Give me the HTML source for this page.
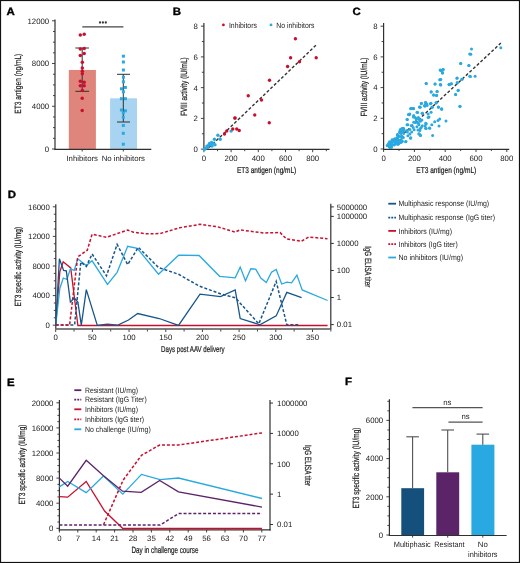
<!DOCTYPE html>
<html><head><meta charset="utf-8"><style>
html,body{margin:0;padding:0;background:#fff;}
svg{display:block;font-family:"Liberation Sans", sans-serif;will-change:transform;text-rendering:geometricPrecision;}
</style></head><body>
<svg width="520" height="563" viewBox="0 0 520 563">
<rect x="0" y="0" width="520" height="563" fill="#fff"/>
<text x="6.50" y="15.00" font-size="10.6" font-weight="bold" fill="#000" stroke="#000" stroke-width="0.35" transform="translate(6.50 0) scale(1.08 1) translate(-6.50 0)">A</text>
<rect x="68.80" y="69.94" width="27.10" height="79.06" fill="#e0857c"/>
<rect x="110.10" y="98.30" width="26.90" height="50.70" fill="#a9d4f1"/>
<line x1="55.00" y1="19.50" x2="55.00" y2="149.80" stroke="#303030" stroke-width="1.2"/>
<line x1="52.00" y1="149.00" x2="55.00" y2="149.00" stroke="#303030" stroke-width="0.9"/>
<line x1="53.00" y1="138.32" x2="55.00" y2="138.32" stroke="#303030" stroke-width="0.9"/>
<line x1="53.00" y1="127.63" x2="55.00" y2="127.63" stroke="#303030" stroke-width="0.9"/>
<line x1="53.00" y1="116.95" x2="55.00" y2="116.95" stroke="#303030" stroke-width="0.9"/>
<line x1="52.00" y1="106.27" x2="55.00" y2="106.27" stroke="#303030" stroke-width="0.9"/>
<line x1="53.00" y1="95.58" x2="55.00" y2="95.58" stroke="#303030" stroke-width="0.9"/>
<line x1="53.00" y1="84.90" x2="55.00" y2="84.90" stroke="#303030" stroke-width="0.9"/>
<line x1="53.00" y1="74.22" x2="55.00" y2="74.22" stroke="#303030" stroke-width="0.9"/>
<line x1="52.00" y1="63.53" x2="55.00" y2="63.53" stroke="#303030" stroke-width="0.9"/>
<line x1="53.00" y1="52.85" x2="55.00" y2="52.85" stroke="#303030" stroke-width="0.9"/>
<line x1="53.00" y1="42.17" x2="55.00" y2="42.17" stroke="#303030" stroke-width="0.9"/>
<line x1="53.00" y1="31.48" x2="55.00" y2="31.48" stroke="#303030" stroke-width="0.9"/>
<line x1="52.00" y1="20.80" x2="55.00" y2="20.80" stroke="#303030" stroke-width="0.9"/>
<text x="49.20" y="151.85" font-size="7.8" text-anchor="end" fill="#222" font-weight="normal" stroke="#222" stroke-width="0">0</text>
<text x="49.20" y="109.12" font-size="7.8" text-anchor="end" fill="#222" font-weight="normal" stroke="#222" stroke-width="0">4000</text>
<text x="49.20" y="66.38" font-size="7.8" text-anchor="end" fill="#222" font-weight="normal" stroke="#222" stroke-width="0">8000</text>
<text x="49.20" y="23.65" font-size="7.8" text-anchor="end" fill="#222" font-weight="normal" stroke="#222" stroke-width="0">12000</text>
<line x1="54.40" y1="149.40" x2="151.30" y2="149.40" stroke="#303030" stroke-width="1.1"/>
<line x1="82.20" y1="149.20" x2="82.20" y2="151.50" stroke="#303030" stroke-width="0.9"/>
<line x1="123.30" y1="149.20" x2="123.30" y2="151.50" stroke="#303030" stroke-width="0.9"/>
<text x="82.20" y="160.60" font-size="7.8" text-anchor="middle" fill="#222" font-weight="normal" stroke="#222" stroke-width="0">Inhibitors</text>
<text x="123.30" y="160.60" font-size="7.8" text-anchor="middle" fill="#222" font-weight="normal" stroke="#222" stroke-width="0">No inhibitors</text>
<text x="20.60" y="83.70" font-size="9" text-anchor="middle" fill="#222" font-weight="normal" stroke="#222" stroke-width="0.22" textLength="60" lengthAdjust="spacingAndGlyphs" transform="rotate(-90 20.6 83.7)">ET3 antigen (ng/mL)</text>
<line x1="82.30" y1="26.85" x2="123.40" y2="26.85" stroke="#444" stroke-width="1.2"/>
<circle cx="100.00" cy="22.50" r="1.15" fill="#3a3a3a"/>
<circle cx="102.90" cy="22.50" r="1.15" fill="#3a3a3a"/>
<circle cx="105.80" cy="22.50" r="1.15" fill="#3a3a3a"/>
<line x1="82.20" y1="48.00" x2="82.20" y2="91.40" stroke="#303030" stroke-width="1.0"/>
<line x1="75.40" y1="48.00" x2="88.90" y2="48.00" stroke="#303030" stroke-width="1.0"/>
<line x1="75.40" y1="91.30" x2="89.10" y2="91.30" stroke="#303030" stroke-width="1.0"/>
<circle cx="80.30" cy="34.90" r="1.75" fill="#c8102e"/>
<circle cx="84.20" cy="34.30" r="1.75" fill="#c8102e"/>
<circle cx="80.30" cy="48.90" r="1.75" fill="#c8102e"/>
<circle cx="84.20" cy="48.60" r="1.75" fill="#c8102e"/>
<circle cx="80.30" cy="55.40" r="1.75" fill="#c8102e"/>
<circle cx="84.20" cy="53.50" r="1.75" fill="#c8102e"/>
<circle cx="82.30" cy="62.30" r="1.75" fill="#c8102e"/>
<circle cx="82.30" cy="68.00" r="1.75" fill="#c8102e"/>
<circle cx="82.30" cy="71.20" r="1.75" fill="#c8102e"/>
<circle cx="82.30" cy="73.80" r="1.75" fill="#c8102e"/>
<circle cx="80.30" cy="81.20" r="1.75" fill="#c8102e"/>
<circle cx="84.20" cy="82.30" r="1.75" fill="#c8102e"/>
<circle cx="80.30" cy="85.70" r="1.75" fill="#c8102e"/>
<circle cx="84.20" cy="85.70" r="1.75" fill="#c8102e"/>
<circle cx="82.30" cy="90.50" r="1.75" fill="#c8102e"/>
<circle cx="82.20" cy="98.30" r="1.75" fill="#c8102e"/>
<circle cx="82.20" cy="110.40" r="1.75" fill="#c8102e"/>
<line x1="123.30" y1="74.30" x2="123.30" y2="122.00" stroke="#303030" stroke-width="1.0"/>
<line x1="117.00" y1="74.30" x2="130.00" y2="74.30" stroke="#303030" stroke-width="1.0"/>
<line x1="117.00" y1="122.00" x2="130.00" y2="122.00" stroke="#303030" stroke-width="1.0"/>
<rect x="121.90" y="54.70" width="3.00" height="3.00" fill="#2aa9e0"/>
<rect x="121.90" y="60.50" width="3.00" height="3.00" fill="#2aa9e0"/>
<rect x="121.90" y="68.50" width="3.00" height="3.00" fill="#2aa9e0"/>
<rect x="121.90" y="75.70" width="3.00" height="3.00" fill="#2aa9e0"/>
<rect x="121.90" y="80.30" width="3.00" height="3.00" fill="#2aa9e0"/>
<rect x="120.00" y="87.30" width="3.00" height="3.00" fill="#2aa9e0"/>
<rect x="123.90" y="85.90" width="3.00" height="3.00" fill="#2aa9e0"/>
<rect x="121.90" y="90.30" width="3.00" height="3.00" fill="#2aa9e0"/>
<rect x="119.90" y="97.20" width="3.00" height="3.00" fill="#2aa9e0"/>
<rect x="123.90" y="97.20" width="3.00" height="3.00" fill="#2aa9e0"/>
<rect x="119.90" y="108.50" width="3.00" height="3.00" fill="#2aa9e0"/>
<rect x="123.90" y="109.30" width="3.00" height="3.00" fill="#2aa9e0"/>
<rect x="121.80" y="111.50" width="3.00" height="3.00" fill="#2aa9e0"/>
<rect x="121.80" y="115.80" width="3.00" height="3.00" fill="#2aa9e0"/>
<rect x="121.80" y="124.00" width="3.00" height="3.00" fill="#2aa9e0"/>
<rect x="121.80" y="131.80" width="3.00" height="3.00" fill="#2aa9e0"/>
<rect x="121.80" y="142.70" width="3.00" height="3.00" fill="#2aa9e0"/>
<text x="172.80" y="14.70" font-size="10.6" font-weight="bold" fill="#000" stroke="#000" stroke-width="0.35" transform="translate(172.80 0) scale(1.08 1) translate(-172.80 0)">B</text>
<line x1="203.90" y1="23.10" x2="203.90" y2="149.80" stroke="#303030" stroke-width="1.2"/>
<line x1="200.90" y1="149.15" x2="203.90" y2="149.15" stroke="#303030" stroke-width="0.9"/>
<line x1="201.90" y1="133.78" x2="203.90" y2="133.78" stroke="#303030" stroke-width="0.9"/>
<line x1="200.90" y1="118.40" x2="203.90" y2="118.40" stroke="#303030" stroke-width="0.9"/>
<line x1="201.90" y1="103.03" x2="203.90" y2="103.03" stroke="#303030" stroke-width="0.9"/>
<line x1="200.90" y1="87.65" x2="203.90" y2="87.65" stroke="#303030" stroke-width="0.9"/>
<line x1="201.90" y1="72.28" x2="203.90" y2="72.28" stroke="#303030" stroke-width="0.9"/>
<line x1="200.90" y1="56.90" x2="203.90" y2="56.90" stroke="#303030" stroke-width="0.9"/>
<line x1="201.90" y1="41.53" x2="203.90" y2="41.53" stroke="#303030" stroke-width="0.9"/>
<line x1="200.90" y1="26.15" x2="203.90" y2="26.15" stroke="#303030" stroke-width="0.9"/>
<text x="197.80" y="152.00" font-size="7.8" text-anchor="end" fill="#222" font-weight="normal" stroke="#222" stroke-width="0">0</text>
<text x="197.80" y="121.25" font-size="7.8" text-anchor="end" fill="#222" font-weight="normal" stroke="#222" stroke-width="0">2</text>
<text x="197.80" y="90.50" font-size="7.8" text-anchor="end" fill="#222" font-weight="normal" stroke="#222" stroke-width="0">4</text>
<text x="197.80" y="59.75" font-size="7.8" text-anchor="end" fill="#222" font-weight="normal" stroke="#222" stroke-width="0">6</text>
<text x="197.80" y="29.00" font-size="7.8" text-anchor="end" fill="#222" font-weight="normal" stroke="#222" stroke-width="0">8</text>
<line x1="203.30" y1="149.40" x2="329.50" y2="149.40" stroke="#303030" stroke-width="1.1"/>
<line x1="203.90" y1="149.20" x2="203.90" y2="152.20" stroke="#303030" stroke-width="0.9"/>
<line x1="217.50" y1="149.20" x2="217.50" y2="151.20" stroke="#303030" stroke-width="0.9"/>
<line x1="231.10" y1="149.20" x2="231.10" y2="152.20" stroke="#303030" stroke-width="0.9"/>
<line x1="244.70" y1="149.20" x2="244.70" y2="151.20" stroke="#303030" stroke-width="0.9"/>
<line x1="258.30" y1="149.20" x2="258.30" y2="152.20" stroke="#303030" stroke-width="0.9"/>
<line x1="271.90" y1="149.20" x2="271.90" y2="151.20" stroke="#303030" stroke-width="0.9"/>
<line x1="285.50" y1="149.20" x2="285.50" y2="152.20" stroke="#303030" stroke-width="0.9"/>
<line x1="299.10" y1="149.20" x2="299.10" y2="151.20" stroke="#303030" stroke-width="0.9"/>
<line x1="312.70" y1="149.20" x2="312.70" y2="152.20" stroke="#303030" stroke-width="0.9"/>
<line x1="326.30" y1="149.20" x2="326.30" y2="151.20" stroke="#303030" stroke-width="0.9"/>
<text x="203.90" y="161.00" font-size="7.8" text-anchor="middle" fill="#222" font-weight="normal" stroke="#222" stroke-width="0">0</text>
<text x="231.10" y="161.00" font-size="7.8" text-anchor="middle" fill="#222" font-weight="normal" stroke="#222" stroke-width="0">200</text>
<text x="258.30" y="161.00" font-size="7.8" text-anchor="middle" fill="#222" font-weight="normal" stroke="#222" stroke-width="0">400</text>
<text x="285.50" y="161.00" font-size="7.8" text-anchor="middle" fill="#222" font-weight="normal" stroke="#222" stroke-width="0">600</text>
<text x="312.70" y="161.00" font-size="7.8" text-anchor="middle" fill="#222" font-weight="normal" stroke="#222" stroke-width="0">800</text>
<text x="266.60" y="173.20" font-size="8.5" text-anchor="middle" fill="#222" font-weight="normal" stroke="#222" stroke-width="0.22" textLength="59.4" lengthAdjust="spacingAndGlyphs">ET3 antigen (ng/mL)</text>
<text x="187.10" y="86.60" font-size="9" text-anchor="middle" fill="#222" font-weight="normal" stroke="#222" stroke-width="0.22" textLength="58.8" lengthAdjust="spacingAndGlyphs" transform="rotate(-90 187.1 86.6)">FVIII activity (IU/mL)</text>
<circle cx="223.40" cy="24.90" r="1.4" fill="#c8102e"/>
<text x="228.90" y="27.50" font-size="7.8" text-anchor="start" fill="#222" font-weight="normal" stroke="#222" stroke-width="0" textLength="28" lengthAdjust="spacingAndGlyphs">Inhibitors</text>
<circle cx="271.00" cy="24.90" r="1.4" fill="#2aa9e0"/>
<text x="276.30" y="27.50" font-size="7.8" text-anchor="start" fill="#222" font-weight="normal" stroke="#222" stroke-width="0" textLength="38.2" lengthAdjust="spacingAndGlyphs">No inhibitors</text>
<line x1="209.00" y1="147.60" x2="316.20" y2="45.00" stroke="#333" stroke-width="1.4" stroke-dasharray="3,2"/>
<circle cx="231.10" cy="131.10" r="1.7" fill="#2aa9e0"/>
<circle cx="217.90" cy="135.20" r="1.7" fill="#2aa9e0"/>
<circle cx="214.40" cy="139.20" r="1.7" fill="#2aa9e0"/>
<circle cx="220.20" cy="139.20" r="1.7" fill="#2aa9e0"/>
<circle cx="211.50" cy="142.50" r="1.7" fill="#2aa9e0"/>
<circle cx="210.40" cy="144.40" r="1.7" fill="#2aa9e0"/>
<circle cx="215.00" cy="144.80" r="1.7" fill="#2aa9e0"/>
<circle cx="212.10" cy="146.10" r="1.7" fill="#2aa9e0"/>
<circle cx="208.70" cy="145.20" r="1.7" fill="#2aa9e0"/>
<circle cx="206.90" cy="146.10" r="1.7" fill="#2aa9e0"/>
<circle cx="205.20" cy="148.40" r="1.7" fill="#2aa9e0"/>
<circle cx="204.60" cy="149.20" r="1.7" fill="#2aa9e0"/>
<circle cx="207.50" cy="147.50" r="1.7" fill="#2aa9e0"/>
<circle cx="209.50" cy="143.50" r="1.7" fill="#2aa9e0"/>
<circle cx="213.00" cy="143.20" r="1.7" fill="#2aa9e0"/>
<circle cx="269.50" cy="80.25" r="1.7" fill="#c8102e"/>
<circle cx="248.25" cy="95.75" r="1.7" fill="#c8102e"/>
<circle cx="261.50" cy="100.00" r="1.7" fill="#c8102e"/>
<circle cx="235.00" cy="118.00" r="1.7" fill="#c8102e"/>
<circle cx="254.75" cy="115.00" r="1.7" fill="#c8102e"/>
<circle cx="269.25" cy="122.75" r="1.7" fill="#c8102e"/>
<circle cx="232.75" cy="129.00" r="1.7" fill="#c8102e"/>
<circle cx="236.75" cy="129.00" r="1.7" fill="#c8102e"/>
<circle cx="239.25" cy="130.50" r="1.7" fill="#c8102e"/>
<circle cx="226.75" cy="131.00" r="1.7" fill="#c8102e"/>
<circle cx="224.50" cy="134.00" r="1.7" fill="#c8102e"/>
<circle cx="295.40" cy="38.80" r="1.7" fill="#c8102e"/>
<circle cx="290.60" cy="57.70" r="1.7" fill="#c8102e"/>
<circle cx="316.20" cy="57.70" r="1.7" fill="#c8102e"/>
<circle cx="287.60" cy="66.50" r="1.7" fill="#c8102e"/>
<circle cx="299.50" cy="61.70" r="1.7" fill="#c8102e"/>
<circle cx="234.90" cy="118.10" r="1.7" fill="#c8102e"/>
<text x="352.60" y="15.30" font-size="10.6" font-weight="bold" fill="#000" stroke="#000" stroke-width="0.35" transform="translate(352.60 0) scale(1.08 1) translate(-352.60 0)">C</text>
<line x1="383.60" y1="23.10" x2="383.60" y2="149.80" stroke="#303030" stroke-width="1.2"/>
<line x1="380.60" y1="149.00" x2="383.60" y2="149.00" stroke="#303030" stroke-width="0.9"/>
<line x1="381.60" y1="133.65" x2="383.60" y2="133.65" stroke="#303030" stroke-width="0.9"/>
<line x1="380.60" y1="118.30" x2="383.60" y2="118.30" stroke="#303030" stroke-width="0.9"/>
<line x1="381.60" y1="102.95" x2="383.60" y2="102.95" stroke="#303030" stroke-width="0.9"/>
<line x1="380.60" y1="87.60" x2="383.60" y2="87.60" stroke="#303030" stroke-width="0.9"/>
<line x1="381.60" y1="72.25" x2="383.60" y2="72.25" stroke="#303030" stroke-width="0.9"/>
<line x1="380.60" y1="56.90" x2="383.60" y2="56.90" stroke="#303030" stroke-width="0.9"/>
<line x1="381.60" y1="41.55" x2="383.60" y2="41.55" stroke="#303030" stroke-width="0.9"/>
<line x1="380.60" y1="26.20" x2="383.60" y2="26.20" stroke="#303030" stroke-width="0.9"/>
<text x="377.50" y="151.85" font-size="7.8" text-anchor="end" fill="#222" font-weight="normal" stroke="#222" stroke-width="0">0</text>
<text x="377.50" y="121.15" font-size="7.8" text-anchor="end" fill="#222" font-weight="normal" stroke="#222" stroke-width="0">2</text>
<text x="377.50" y="90.45" font-size="7.8" text-anchor="end" fill="#222" font-weight="normal" stroke="#222" stroke-width="0">4</text>
<text x="377.50" y="59.75" font-size="7.8" text-anchor="end" fill="#222" font-weight="normal" stroke="#222" stroke-width="0">6</text>
<text x="377.50" y="29.05" font-size="7.8" text-anchor="end" fill="#222" font-weight="normal" stroke="#222" stroke-width="0">8</text>
<line x1="383.00" y1="149.40" x2="509.20" y2="149.40" stroke="#303030" stroke-width="1.1"/>
<line x1="383.60" y1="149.00" x2="383.60" y2="152.00" stroke="#303030" stroke-width="0.9"/>
<line x1="399.00" y1="149.00" x2="399.00" y2="151.00" stroke="#303030" stroke-width="0.9"/>
<line x1="414.40" y1="149.00" x2="414.40" y2="152.00" stroke="#303030" stroke-width="0.9"/>
<line x1="429.80" y1="149.00" x2="429.80" y2="151.00" stroke="#303030" stroke-width="0.9"/>
<line x1="445.20" y1="149.00" x2="445.20" y2="152.00" stroke="#303030" stroke-width="0.9"/>
<line x1="460.60" y1="149.00" x2="460.60" y2="151.00" stroke="#303030" stroke-width="0.9"/>
<line x1="476.00" y1="149.00" x2="476.00" y2="152.00" stroke="#303030" stroke-width="0.9"/>
<line x1="491.40" y1="149.00" x2="491.40" y2="151.00" stroke="#303030" stroke-width="0.9"/>
<line x1="506.80" y1="149.00" x2="506.80" y2="152.00" stroke="#303030" stroke-width="0.9"/>
<text x="383.60" y="161.00" font-size="7.8" text-anchor="middle" fill="#222" font-weight="normal" stroke="#222" stroke-width="0">0</text>
<text x="414.40" y="161.00" font-size="7.8" text-anchor="middle" fill="#222" font-weight="normal" stroke="#222" stroke-width="0">200</text>
<text x="445.20" y="161.00" font-size="7.8" text-anchor="middle" fill="#222" font-weight="normal" stroke="#222" stroke-width="0">400</text>
<text x="476.00" y="161.00" font-size="7.8" text-anchor="middle" fill="#222" font-weight="normal" stroke="#222" stroke-width="0">600</text>
<text x="506.80" y="161.00" font-size="7.8" text-anchor="middle" fill="#222" font-weight="normal" stroke="#222" stroke-width="0">800</text>
<text x="446.30" y="173.20" font-size="8.5" text-anchor="middle" fill="#222" font-weight="normal" stroke="#222" stroke-width="0.22" textLength="60" lengthAdjust="spacingAndGlyphs">ET3 antigen (ng/mL)</text>
<text x="367.00" y="87.00" font-size="9" text-anchor="middle" fill="#222" font-weight="normal" stroke="#222" stroke-width="0.22" textLength="58.9" lengthAdjust="spacingAndGlyphs" transform="rotate(-90 367 87)">FVIII activity (IU/mL)</text>
<line x1="400.00" y1="137.00" x2="500.80" y2="43.10" stroke="#333" stroke-width="1.4" stroke-dasharray="3,2"/>
<circle cx="471.50" cy="48.90" r="1.5" fill="#2aa9e0"/>
<circle cx="470.80" cy="54.20" r="1.5" fill="#2aa9e0"/>
<circle cx="500.80" cy="47.70" r="1.5" fill="#2aa9e0"/>
<circle cx="460.80" cy="63.50" r="1.5" fill="#2aa9e0"/>
<circle cx="468.90" cy="65.40" r="1.5" fill="#2aa9e0"/>
<circle cx="443.10" cy="69.50" r="1.5" fill="#2aa9e0"/>
<circle cx="440.80" cy="70.30" r="1.5" fill="#2aa9e0"/>
<circle cx="442.60" cy="72.80" r="1.5" fill="#2aa9e0"/>
<circle cx="470.50" cy="76.60" r="1.5" fill="#2aa9e0"/>
<circle cx="475.10" cy="76.20" r="1.5" fill="#2aa9e0"/>
<circle cx="456.90" cy="78.20" r="1.5" fill="#2aa9e0"/>
<circle cx="462.00" cy="79.20" r="1.5" fill="#2aa9e0"/>
<circle cx="440.80" cy="79.50" r="1.5" fill="#2aa9e0"/>
<circle cx="457.20" cy="82.80" r="1.5" fill="#2aa9e0"/>
<circle cx="449.20" cy="84.60" r="1.5" fill="#2aa9e0"/>
<circle cx="451.50" cy="83.80" r="1.5" fill="#2aa9e0"/>
<circle cx="440.80" cy="84.90" r="1.5" fill="#2aa9e0"/>
<circle cx="458.20" cy="90.30" r="1.5" fill="#2aa9e0"/>
<circle cx="455.70" cy="94.60" r="1.5" fill="#2aa9e0"/>
<circle cx="460.00" cy="106.50" r="1.5" fill="#2aa9e0"/>
<circle cx="441.50" cy="108.90" r="1.5" fill="#2aa9e0"/>
<circle cx="440.10" cy="69.90" r="1.5" fill="#2aa9e0"/>
<circle cx="443.10" cy="69.60" r="1.5" fill="#2aa9e0"/>
<circle cx="442.50" cy="73.00" r="1.5" fill="#2aa9e0"/>
<circle cx="460.60" cy="63.60" r="1.5" fill="#2aa9e0"/>
<circle cx="468.90" cy="65.60" r="1.5" fill="#2aa9e0"/>
<circle cx="469.70" cy="54.10" r="1.5" fill="#2aa9e0"/>
<circle cx="439.80" cy="79.70" r="1.5" fill="#2aa9e0"/>
<circle cx="426.20" cy="83.50" r="1.5" fill="#2aa9e0"/>
<circle cx="435.00" cy="84.10" r="1.5" fill="#2aa9e0"/>
<circle cx="440.40" cy="84.80" r="1.5" fill="#2aa9e0"/>
<circle cx="449.10" cy="84.70" r="1.5" fill="#2aa9e0"/>
<circle cx="451.10" cy="83.70" r="1.5" fill="#2aa9e0"/>
<circle cx="457.20" cy="78.10" r="1.5" fill="#2aa9e0"/>
<circle cx="461.90" cy="79.30" r="1.5" fill="#2aa9e0"/>
<circle cx="457.20" cy="82.80" r="1.5" fill="#2aa9e0"/>
<circle cx="469.70" cy="76.30" r="1.5" fill="#2aa9e0"/>
<circle cx="458.10" cy="90.50" r="1.5" fill="#2aa9e0"/>
<circle cx="455.50" cy="94.50" r="1.5" fill="#2aa9e0"/>
<circle cx="431.20" cy="91.80" r="1.5" fill="#2aa9e0"/>
<circle cx="437.00" cy="91.50" r="1.5" fill="#2aa9e0"/>
<circle cx="433.60" cy="94.90" r="1.5" fill="#2aa9e0"/>
<circle cx="436.60" cy="95.20" r="1.5" fill="#2aa9e0"/>
<circle cx="421.50" cy="103.30" r="1.5" fill="#2aa9e0"/>
<circle cx="425.60" cy="102.60" r="1.5" fill="#2aa9e0"/>
<circle cx="424.90" cy="106.00" r="1.5" fill="#2aa9e0"/>
<circle cx="431.00" cy="103.30" r="1.5" fill="#2aa9e0"/>
<circle cx="436.10" cy="102.60" r="1.5" fill="#2aa9e0"/>
<circle cx="419.90" cy="106.90" r="1.5" fill="#2aa9e0"/>
<circle cx="432.30" cy="107.30" r="1.5" fill="#2aa9e0"/>
<circle cx="438.40" cy="107.00" r="1.5" fill="#2aa9e0"/>
<circle cx="441.70" cy="108.90" r="1.5" fill="#2aa9e0"/>
<circle cx="459.90" cy="106.20" r="1.5" fill="#2aa9e0"/>
<circle cx="410.80" cy="108.60" r="1.5" fill="#2aa9e0"/>
<circle cx="413.50" cy="108.60" r="1.5" fill="#2aa9e0"/>
<circle cx="441.10" cy="70.70" r="1.5" fill="#2aa9e0"/>
<circle cx="442.50" cy="72.80" r="1.5" fill="#2aa9e0"/>
<circle cx="440.00" cy="79.70" r="1.5" fill="#2aa9e0"/>
<circle cx="426.20" cy="83.50" r="1.5" fill="#2aa9e0"/>
<circle cx="435.10" cy="83.90" r="1.5" fill="#2aa9e0"/>
<circle cx="440.40" cy="84.60" r="1.5" fill="#2aa9e0"/>
<circle cx="449.20" cy="84.60" r="1.5" fill="#2aa9e0"/>
<circle cx="431.10" cy="92.00" r="1.5" fill="#2aa9e0"/>
<circle cx="437.20" cy="91.60" r="1.5" fill="#2aa9e0"/>
<circle cx="433.70" cy="94.90" r="1.5" fill="#2aa9e0"/>
<circle cx="436.50" cy="95.60" r="1.5" fill="#2aa9e0"/>
<circle cx="421.20" cy="103.40" r="1.5" fill="#2aa9e0"/>
<circle cx="425.50" cy="102.40" r="1.5" fill="#2aa9e0"/>
<circle cx="424.70" cy="105.20" r="1.5" fill="#2aa9e0"/>
<circle cx="426.90" cy="104.10" r="1.5" fill="#2aa9e0"/>
<circle cx="430.40" cy="103.80" r="1.5" fill="#2aa9e0"/>
<circle cx="436.10" cy="103.00" r="1.5" fill="#2aa9e0"/>
<circle cx="411.50" cy="108.40" r="1.5" fill="#2aa9e0"/>
<circle cx="413.40" cy="108.60" r="1.5" fill="#2aa9e0"/>
<circle cx="420.20" cy="107.20" r="1.5" fill="#2aa9e0"/>
<circle cx="431.80" cy="107.20" r="1.5" fill="#2aa9e0"/>
<circle cx="438.50" cy="107.20" r="1.5" fill="#2aa9e0"/>
<circle cx="441.80" cy="109.10" r="1.5" fill="#2aa9e0"/>
<circle cx="409.10" cy="114.70" r="1.5" fill="#2aa9e0"/>
<circle cx="417.60" cy="112.60" r="1.5" fill="#2aa9e0"/>
<circle cx="422.30" cy="113.30" r="1.5" fill="#2aa9e0"/>
<circle cx="431.10" cy="112.30" r="1.5" fill="#2aa9e0"/>
<circle cx="413.40" cy="116.90" r="1.5" fill="#2aa9e0"/>
<circle cx="418.40" cy="117.60" r="1.5" fill="#2aa9e0"/>
<circle cx="429.00" cy="116.90" r="1.5" fill="#2aa9e0"/>
<circle cx="407.00" cy="119.40" r="1.5" fill="#2aa9e0"/>
<circle cx="416.20" cy="119.70" r="1.5" fill="#2aa9e0"/>
<circle cx="421.90" cy="120.00" r="1.5" fill="#2aa9e0"/>
<circle cx="439.70" cy="119.00" r="1.5" fill="#2aa9e0"/>
<circle cx="438.00" cy="120.40" r="1.5" fill="#2aa9e0"/>
<circle cx="446.00" cy="121.10" r="1.5" fill="#2aa9e0"/>
<circle cx="415.50" cy="122.60" r="1.5" fill="#2aa9e0"/>
<circle cx="418.40" cy="123.30" r="1.5" fill="#2aa9e0"/>
<circle cx="426.20" cy="123.70" r="1.5" fill="#2aa9e0"/>
<circle cx="434.70" cy="121.80" r="1.5" fill="#2aa9e0"/>
<circle cx="407.00" cy="124.70" r="1.5" fill="#2aa9e0"/>
<circle cx="411.30" cy="125.40" r="1.5" fill="#2aa9e0"/>
<circle cx="416.90" cy="126.80" r="1.5" fill="#2aa9e0"/>
<circle cx="421.20" cy="127.50" r="1.5" fill="#2aa9e0"/>
<circle cx="425.50" cy="128.20" r="1.5" fill="#2aa9e0"/>
<circle cx="429.70" cy="128.20" r="1.5" fill="#2aa9e0"/>
<circle cx="431.80" cy="124.70" r="1.5" fill="#2aa9e0"/>
<circle cx="439.00" cy="126.10" r="1.5" fill="#2aa9e0"/>
<circle cx="403.40" cy="128.20" r="1.5" fill="#2aa9e0"/>
<circle cx="407.00" cy="130.40" r="1.5" fill="#2aa9e0"/>
<circle cx="414.10" cy="129.70" r="1.5" fill="#2aa9e0"/>
<circle cx="419.80" cy="130.40" r="1.5" fill="#2aa9e0"/>
<circle cx="399.90" cy="132.50" r="1.5" fill="#2aa9e0"/>
<circle cx="409.80" cy="133.90" r="1.5" fill="#2aa9e0"/>
<circle cx="419.10" cy="133.90" r="1.5" fill="#2aa9e0"/>
<circle cx="420.50" cy="135.60" r="1.5" fill="#2aa9e0"/>
<circle cx="432.60" cy="135.60" r="1.5" fill="#2aa9e0"/>
<circle cx="410.50" cy="138.20" r="1.5" fill="#2aa9e0"/>
<circle cx="405.60" cy="141.70" r="1.5" fill="#2aa9e0"/>
<circle cx="410.80" cy="108.70" r="1.5" fill="#2aa9e0"/>
<circle cx="413.20" cy="108.70" r="1.5" fill="#2aa9e0"/>
<circle cx="419.40" cy="107.10" r="1.5" fill="#2aa9e0"/>
<circle cx="424.70" cy="106.00" r="1.5" fill="#2aa9e0"/>
<circle cx="427.10" cy="105.50" r="1.5" fill="#2aa9e0"/>
<circle cx="417.00" cy="112.20" r="1.5" fill="#2aa9e0"/>
<circle cx="422.30" cy="113.20" r="1.5" fill="#2aa9e0"/>
<circle cx="408.40" cy="114.60" r="1.5" fill="#2aa9e0"/>
<circle cx="409.80" cy="114.10" r="1.5" fill="#2aa9e0"/>
<circle cx="413.70" cy="115.60" r="1.5" fill="#2aa9e0"/>
<circle cx="428.10" cy="114.10" r="1.5" fill="#2aa9e0"/>
<circle cx="407.40" cy="119.40" r="1.5" fill="#2aa9e0"/>
<circle cx="415.10" cy="117.50" r="1.5" fill="#2aa9e0"/>
<circle cx="417.00" cy="118.50" r="1.5" fill="#2aa9e0"/>
<circle cx="419.40" cy="119.40" r="1.5" fill="#2aa9e0"/>
<circle cx="428.10" cy="117.50" r="1.5" fill="#2aa9e0"/>
<circle cx="413.70" cy="122.30" r="1.5" fill="#2aa9e0"/>
<circle cx="417.50" cy="122.30" r="1.5" fill="#2aa9e0"/>
<circle cx="420.40" cy="121.30" r="1.5" fill="#2aa9e0"/>
<circle cx="425.70" cy="123.30" r="1.5" fill="#2aa9e0"/>
<circle cx="407.90" cy="124.70" r="1.5" fill="#2aa9e0"/>
<circle cx="418.90" cy="124.70" r="1.5" fill="#2aa9e0"/>
<circle cx="422.30" cy="125.70" r="1.5" fill="#2aa9e0"/>
<circle cx="425.20" cy="125.70" r="1.5" fill="#2aa9e0"/>
<circle cx="413.20" cy="127.60" r="1.5" fill="#2aa9e0"/>
<circle cx="420.40" cy="128.60" r="1.5" fill="#2aa9e0"/>
<circle cx="426.20" cy="128.60" r="1.5" fill="#2aa9e0"/>
<circle cx="403.10" cy="128.60" r="1.5" fill="#2aa9e0"/>
<circle cx="409.80" cy="129.50" r="1.5" fill="#2aa9e0"/>
<circle cx="418.00" cy="130.00" r="1.5" fill="#2aa9e0"/>
<circle cx="429.50" cy="128.10" r="1.5" fill="#2aa9e0"/>
<circle cx="399.70" cy="131.90" r="1.5" fill="#2aa9e0"/>
<circle cx="407.40" cy="131.90" r="1.5" fill="#2aa9e0"/>
<circle cx="411.70" cy="131.90" r="1.5" fill="#2aa9e0"/>
<circle cx="418.90" cy="133.80" r="1.5" fill="#2aa9e0"/>
<circle cx="420.40" cy="135.30" r="1.5" fill="#2aa9e0"/>
<circle cx="407.90" cy="135.80" r="1.5" fill="#2aa9e0"/>
<circle cx="410.80" cy="137.70" r="1.5" fill="#2aa9e0"/>
<circle cx="406.00" cy="141.50" r="1.5" fill="#2aa9e0"/>
<circle cx="397.70" cy="143.32" r="1.5" fill="#2aa9e0"/>
<circle cx="403.82" cy="129.49" r="1.5" fill="#2aa9e0"/>
<circle cx="395.96" cy="139.63" r="1.5" fill="#2aa9e0"/>
<circle cx="390.15" cy="147.16" r="1.5" fill="#2aa9e0"/>
<circle cx="400.85" cy="130.51" r="1.5" fill="#2aa9e0"/>
<circle cx="401.54" cy="130.05" r="1.5" fill="#2aa9e0"/>
<circle cx="395.86" cy="141.91" r="1.5" fill="#2aa9e0"/>
<circle cx="403.66" cy="133.57" r="1.5" fill="#2aa9e0"/>
<circle cx="402.01" cy="137.58" r="1.5" fill="#2aa9e0"/>
<circle cx="392.06" cy="139.73" r="1.5" fill="#2aa9e0"/>
<circle cx="388.32" cy="143.63" r="1.5" fill="#2aa9e0"/>
<circle cx="395.54" cy="144.06" r="1.5" fill="#2aa9e0"/>
<circle cx="391.48" cy="147.33" r="1.5" fill="#2aa9e0"/>
<circle cx="402.45" cy="129.87" r="1.5" fill="#2aa9e0"/>
<circle cx="397.87" cy="144.34" r="1.5" fill="#2aa9e0"/>
<circle cx="387.28" cy="145.58" r="1.5" fill="#2aa9e0"/>
<circle cx="394.74" cy="143.05" r="1.5" fill="#2aa9e0"/>
<circle cx="391.95" cy="144.29" r="1.5" fill="#2aa9e0"/>
<circle cx="401.05" cy="142.28" r="1.5" fill="#2aa9e0"/>
<circle cx="398.61" cy="143.71" r="1.5" fill="#2aa9e0"/>
<circle cx="392.00" cy="142.50" r="1.5" fill="#2aa9e0"/>
<circle cx="400.93" cy="142.20" r="1.5" fill="#2aa9e0"/>
<circle cx="398.29" cy="139.77" r="1.5" fill="#2aa9e0"/>
<circle cx="389.52" cy="141.78" r="1.5" fill="#2aa9e0"/>
<circle cx="394.18" cy="144.97" r="1.5" fill="#2aa9e0"/>
<circle cx="391.65" cy="141.17" r="1.5" fill="#2aa9e0"/>
<circle cx="391.70" cy="145.54" r="1.5" fill="#2aa9e0"/>
<circle cx="395.40" cy="138.65" r="1.5" fill="#2aa9e0"/>
<circle cx="387.66" cy="145.41" r="1.5" fill="#2aa9e0"/>
<circle cx="399.21" cy="142.83" r="1.5" fill="#2aa9e0"/>
<circle cx="400.07" cy="130.78" r="1.5" fill="#2aa9e0"/>
<circle cx="401.17" cy="139.78" r="1.5" fill="#2aa9e0"/>
<circle cx="398.64" cy="136.26" r="1.5" fill="#2aa9e0"/>
<circle cx="397.72" cy="144.04" r="1.5" fill="#2aa9e0"/>
<circle cx="398.01" cy="142.85" r="1.5" fill="#2aa9e0"/>
<circle cx="393.70" cy="141.30" r="1.5" fill="#2aa9e0"/>
<circle cx="397.46" cy="139.98" r="1.5" fill="#2aa9e0"/>
<circle cx="389.23" cy="146.87" r="1.5" fill="#2aa9e0"/>
<circle cx="402.01" cy="136.22" r="1.5" fill="#2aa9e0"/>
<circle cx="401.89" cy="141.13" r="1.5" fill="#2aa9e0"/>
<circle cx="397.11" cy="139.40" r="1.5" fill="#2aa9e0"/>
<circle cx="397.39" cy="134.72" r="1.5" fill="#2aa9e0"/>
<circle cx="390.02" cy="147.58" r="1.5" fill="#2aa9e0"/>
<circle cx="401.20" cy="132.40" r="1.5" fill="#2aa9e0"/>
<circle cx="397.38" cy="137.44" r="1.5" fill="#2aa9e0"/>
<circle cx="398.19" cy="140.28" r="1.5" fill="#2aa9e0"/>
<circle cx="400.36" cy="129.60" r="1.5" fill="#2aa9e0"/>
<circle cx="400.73" cy="133.62" r="1.5" fill="#2aa9e0"/>
<circle cx="400.39" cy="140.00" r="1.5" fill="#2aa9e0"/>
<circle cx="393.41" cy="139.66" r="1.5" fill="#2aa9e0"/>
<circle cx="399.58" cy="140.91" r="1.5" fill="#2aa9e0"/>
<circle cx="402.74" cy="131.32" r="1.5" fill="#2aa9e0"/>
<circle cx="390.52" cy="145.26" r="1.5" fill="#2aa9e0"/>
<circle cx="399.28" cy="136.52" r="1.5" fill="#2aa9e0"/>
<circle cx="390.30" cy="144.18" r="1.5" fill="#2aa9e0"/>
<circle cx="404.03" cy="130.14" r="1.5" fill="#2aa9e0"/>
<circle cx="394.53" cy="139.08" r="1.5" fill="#2aa9e0"/>
<circle cx="401.86" cy="128.51" r="1.5" fill="#2aa9e0"/>
<circle cx="389.06" cy="145.03" r="1.5" fill="#2aa9e0"/>
<circle cx="401.42" cy="141.60" r="1.5" fill="#2aa9e0"/>
<circle cx="402.53" cy="131.82" r="1.5" fill="#2aa9e0"/>
<circle cx="390.43" cy="147.20" r="1.5" fill="#2aa9e0"/>
<circle cx="396.66" cy="143.33" r="1.5" fill="#2aa9e0"/>
<circle cx="403.33" cy="129.96" r="1.5" fill="#2aa9e0"/>
<circle cx="397.20" cy="137.77" r="1.5" fill="#2aa9e0"/>
<circle cx="396.21" cy="140.66" r="1.5" fill="#2aa9e0"/>
<circle cx="389.59" cy="143.51" r="1.5" fill="#2aa9e0"/>
<circle cx="400.21" cy="130.95" r="1.5" fill="#2aa9e0"/>
<circle cx="399.69" cy="141.41" r="1.5" fill="#2aa9e0"/>
<circle cx="403.29" cy="137.57" r="1.5" fill="#2aa9e0"/>
<circle cx="391.11" cy="144.52" r="1.5" fill="#2aa9e0"/>
<circle cx="402.05" cy="130.07" r="1.5" fill="#2aa9e0"/>
<circle cx="397.75" cy="134.79" r="1.5" fill="#2aa9e0"/>
<circle cx="397.50" cy="134.67" r="1.5" fill="#2aa9e0"/>
<circle cx="402.28" cy="141.25" r="1.5" fill="#2aa9e0"/>
<text x="7.70" y="197.60" font-size="10.6" font-weight="bold" fill="#000" stroke="#000" stroke-width="0.35" transform="translate(7.70 0) scale(1.08 1) translate(-7.70 0)">D</text>
<line x1="55.80" y1="204.30" x2="55.80" y2="328.80" stroke="#303030" stroke-width="1.2"/>
<line x1="52.80" y1="325.20" x2="55.80" y2="325.20" stroke="#303030" stroke-width="0.9"/>
<line x1="53.80" y1="317.80" x2="55.80" y2="317.80" stroke="#303030" stroke-width="0.9"/>
<line x1="53.80" y1="310.40" x2="55.80" y2="310.40" stroke="#303030" stroke-width="0.9"/>
<line x1="53.80" y1="303.00" x2="55.80" y2="303.00" stroke="#303030" stroke-width="0.9"/>
<line x1="52.80" y1="295.60" x2="55.80" y2="295.60" stroke="#303030" stroke-width="0.9"/>
<line x1="53.80" y1="288.20" x2="55.80" y2="288.20" stroke="#303030" stroke-width="0.9"/>
<line x1="53.80" y1="280.80" x2="55.80" y2="280.80" stroke="#303030" stroke-width="0.9"/>
<line x1="53.80" y1="273.40" x2="55.80" y2="273.40" stroke="#303030" stroke-width="0.9"/>
<line x1="52.80" y1="266.00" x2="55.80" y2="266.00" stroke="#303030" stroke-width="0.9"/>
<line x1="53.80" y1="258.60" x2="55.80" y2="258.60" stroke="#303030" stroke-width="0.9"/>
<line x1="53.80" y1="251.20" x2="55.80" y2="251.20" stroke="#303030" stroke-width="0.9"/>
<line x1="53.80" y1="243.80" x2="55.80" y2="243.80" stroke="#303030" stroke-width="0.9"/>
<line x1="52.80" y1="236.40" x2="55.80" y2="236.40" stroke="#303030" stroke-width="0.9"/>
<line x1="53.80" y1="229.00" x2="55.80" y2="229.00" stroke="#303030" stroke-width="0.9"/>
<line x1="53.80" y1="221.60" x2="55.80" y2="221.60" stroke="#303030" stroke-width="0.9"/>
<line x1="53.80" y1="214.20" x2="55.80" y2="214.20" stroke="#303030" stroke-width="0.9"/>
<line x1="52.80" y1="206.80" x2="55.80" y2="206.80" stroke="#303030" stroke-width="0.9"/>
<text x="49.80" y="328.05" font-size="7.8" text-anchor="end" fill="#222" font-weight="normal" stroke="#222" stroke-width="0">0</text>
<text x="49.80" y="298.45" font-size="7.8" text-anchor="end" fill="#222" font-weight="normal" stroke="#222" stroke-width="0">4000</text>
<text x="49.80" y="268.85" font-size="7.8" text-anchor="end" fill="#222" font-weight="normal" stroke="#222" stroke-width="0">8000</text>
<text x="49.80" y="239.25" font-size="7.8" text-anchor="end" fill="#222" font-weight="normal" stroke="#222" stroke-width="0">12000</text>
<text x="49.80" y="209.65" font-size="7.8" text-anchor="end" fill="#222" font-weight="normal" stroke="#222" stroke-width="0">16000</text>
<line x1="55.20" y1="329.00" x2="331.40" y2="329.00" stroke="#555" stroke-width="1.5"/>
<line x1="55.70" y1="329.50" x2="55.70" y2="332.00" stroke="#303030" stroke-width="0.9"/>
<line x1="74.04" y1="329.50" x2="74.04" y2="331.50" stroke="#303030" stroke-width="0.9"/>
<line x1="92.39" y1="329.50" x2="92.39" y2="332.00" stroke="#303030" stroke-width="0.9"/>
<line x1="110.73" y1="329.50" x2="110.73" y2="331.50" stroke="#303030" stroke-width="0.9"/>
<line x1="129.07" y1="329.50" x2="129.07" y2="332.00" stroke="#303030" stroke-width="0.9"/>
<line x1="147.41" y1="329.50" x2="147.41" y2="331.50" stroke="#303030" stroke-width="0.9"/>
<line x1="165.75" y1="329.50" x2="165.75" y2="332.00" stroke="#303030" stroke-width="0.9"/>
<line x1="184.10" y1="329.50" x2="184.10" y2="331.50" stroke="#303030" stroke-width="0.9"/>
<line x1="202.44" y1="329.50" x2="202.44" y2="332.00" stroke="#303030" stroke-width="0.9"/>
<line x1="220.78" y1="329.50" x2="220.78" y2="331.50" stroke="#303030" stroke-width="0.9"/>
<line x1="239.12" y1="329.50" x2="239.12" y2="332.00" stroke="#303030" stroke-width="0.9"/>
<line x1="257.47" y1="329.50" x2="257.47" y2="331.50" stroke="#303030" stroke-width="0.9"/>
<line x1="275.81" y1="329.50" x2="275.81" y2="332.00" stroke="#303030" stroke-width="0.9"/>
<line x1="294.15" y1="329.50" x2="294.15" y2="331.50" stroke="#303030" stroke-width="0.9"/>
<line x1="312.50" y1="329.50" x2="312.50" y2="332.00" stroke="#303030" stroke-width="0.9"/>
<line x1="330.84" y1="329.50" x2="330.84" y2="331.50" stroke="#303030" stroke-width="0.9"/>
<text x="55.70" y="339.90" font-size="7.8" text-anchor="middle" fill="#222" font-weight="normal" stroke="#222" stroke-width="0">0</text>
<text x="92.39" y="339.90" font-size="7.8" text-anchor="middle" fill="#222" font-weight="normal" stroke="#222" stroke-width="0">50</text>
<text x="129.07" y="339.90" font-size="7.8" text-anchor="middle" fill="#222" font-weight="normal" stroke="#222" stroke-width="0">100</text>
<text x="165.75" y="339.90" font-size="7.8" text-anchor="middle" fill="#222" font-weight="normal" stroke="#222" stroke-width="0">150</text>
<text x="202.44" y="339.90" font-size="7.8" text-anchor="middle" fill="#222" font-weight="normal" stroke="#222" stroke-width="0">200</text>
<text x="239.12" y="339.90" font-size="7.8" text-anchor="middle" fill="#222" font-weight="normal" stroke="#222" stroke-width="0">250</text>
<text x="275.81" y="339.90" font-size="7.8" text-anchor="middle" fill="#222" font-weight="normal" stroke="#222" stroke-width="0">300</text>
<text x="312.50" y="339.90" font-size="7.8" text-anchor="middle" fill="#222" font-weight="normal" stroke="#222" stroke-width="0">350</text>
<text x="192.80" y="351.80" font-size="8.5" text-anchor="middle" fill="#222" font-weight="normal" stroke="#222" stroke-width="0.22" textLength="63.6" lengthAdjust="spacingAndGlyphs">Days post AAV delivery</text>
<text x="21.40" y="266.70" font-size="9" text-anchor="middle" fill="#222" font-weight="normal" stroke="#222" stroke-width="0.22" textLength="79.5" lengthAdjust="spacingAndGlyphs" transform="rotate(-90 21.4 266.7)">ET3 specific activity (IU/mg)</text>
<line x1="330.80" y1="203.70" x2="330.80" y2="328.80" stroke="#303030" stroke-width="1.2"/>
<line x1="330.80" y1="324.60" x2="333.80" y2="324.60" stroke="#303030" stroke-width="1.0"/>
<line x1="330.80" y1="297.54" x2="333.80" y2="297.54" stroke="#303030" stroke-width="1.0"/>
<line x1="330.80" y1="270.48" x2="333.80" y2="270.48" stroke="#303030" stroke-width="1.0"/>
<line x1="330.80" y1="243.42" x2="333.80" y2="243.42" stroke="#303030" stroke-width="1.0"/>
<line x1="330.80" y1="216.36" x2="333.80" y2="216.36" stroke="#303030" stroke-width="1.0"/>
<line x1="330.80" y1="206.90" x2="333.80" y2="206.90" stroke="#303030" stroke-width="1.0"/>
<text x="336.80" y="327.45" font-size="7.8" text-anchor="start" fill="#222" font-weight="normal" stroke="#222" stroke-width="0">0.01</text>
<text x="336.80" y="300.39" font-size="7.8" text-anchor="start" fill="#222" font-weight="normal" stroke="#222" stroke-width="0">1</text>
<text x="336.80" y="273.33" font-size="7.8" text-anchor="start" fill="#222" font-weight="normal" stroke="#222" stroke-width="0">100</text>
<text x="336.80" y="246.27" font-size="7.8" text-anchor="start" fill="#222" font-weight="normal" stroke="#222" stroke-width="0">10000</text>
<text x="336.80" y="219.21" font-size="7.8" text-anchor="start" fill="#222" font-weight="normal" stroke="#222" stroke-width="0">1000000</text>
<text x="336.80" y="209.75" font-size="7.8" text-anchor="start" fill="#222" font-weight="normal" stroke="#222" stroke-width="0">5000000</text>
<text x="364.90" y="266.70" font-size="9" text-anchor="middle" fill="#222" font-weight="normal" stroke="#222" stroke-width="0.22" textLength="41" lengthAdjust="spacingAndGlyphs" transform="rotate(90 364.9 266.7)">IgG ELISA titer</text>
<polyline points="55.70,325.50 59.80,271.90 63.20,261.80 70.70,267.90 77.90,325.50 327.60,325.50" fill="none" stroke="#c8102e" stroke-width="1.3" stroke-linejoin="miter"/>
<polyline points="55.70,325.10 59.80,288.50 63.30,278.00 66.90,279.50 70.40,268.90 74.20,270.40 77.70,258.80 86.30,265.60 92.10,260.80 107.50,284.40 117.10,272.30 127.70,246.30 137.30,248.30 158.50,274.20 178.60,255.20 199.10,255.50 219.60,276.30 235.20,277.80 240.20,267.10 245.50,280.80 250.80,268.80 255.70,269.20 261.00,278.30 266.30,282.50 271.50,272.30 276.20,269.40 281.70,284.00 286.80,282.10 291.60,282.90 296.90,275.10 302.20,289.90 327.60,300.50" fill="none" stroke="#2aa9e0" stroke-width="1.3" stroke-linejoin="miter"/>
<polyline points="55.70,325.10 74.60,325.10 80.80,262.20 86.30,266.50 92.10,254.00 106.50,275.80 117.10,244.40 127.70,264.60 138.30,247.30 158.50,267.50 178.60,274.30 199.10,286.00 220.50,293.80 235.20,297.70 258.80,323.80 276.20,281.40 286.80,324.80 299.00,324.80" fill="none" stroke="#17568a" stroke-width="1.5" stroke-linejoin="miter" stroke-dasharray="3,1.9"/>
<polyline points="55.70,325.10 69.60,325.10 77.70,256.90 87.30,250.20 92.10,234.20 106.50,237.30 127.70,230.00 133.50,232.30 146.90,233.80 160.00,233.60 179.50,227.80 200.00,224.30 217.60,226.80 235.20,232.10 240.10,229.80 250.00,231.25 263.75,233.00 280.00,232.50 286.25,238.75 301.25,241.25 308.75,237.00 327.50,238.75" fill="none" stroke="#c8102e" stroke-width="1.5" stroke-linejoin="miter" stroke-dasharray="3,1.9"/>
<polyline points="55.70,325.10 59.40,258.80 63.60,270.40 66.30,270.80 70.40,302.10 74.20,298.00 77.90,302.10 81.30,325.10 86.30,289.60 97.30,325.40 107.30,324.20 117.90,325.20 128.50,320.00 137.70,313.50 159.20,318.50 178.50,325.40 200.00,294.20 220.50,296.60 235.20,289.90 240.20,318.50 259.90,324.80 276.20,315.90 286.80,292.40 301.60,297.70" fill="none" stroke="#17568a" stroke-width="1.3" stroke-linejoin="miter"/>
<line x1="388.30" y1="203.70" x2="396.00" y2="203.70" stroke="#17568a" stroke-width="1.8"/>
<text x="398.50" y="206.30" font-size="7.8" text-anchor="start" fill="#222" font-weight="normal" stroke="#222" stroke-width="0" textLength="90.7" lengthAdjust="spacingAndGlyphs">Multiphasic response (IU/mg)</text>
<line x1="388.30" y1="217.70" x2="396.00" y2="217.70" stroke="#17568a" stroke-width="1.8" stroke-dasharray="1.9,1.1"/>
<text x="398.50" y="220.30" font-size="7.8" text-anchor="start" fill="#222" font-weight="normal" stroke="#222" stroke-width="0" textLength="96.5" lengthAdjust="spacingAndGlyphs">Multiphasic response (IgG titer)</text>
<line x1="388.30" y1="230.90" x2="396.00" y2="230.90" stroke="#c8102e" stroke-width="1.8"/>
<text x="398.50" y="233.50" font-size="7.8" text-anchor="start" fill="#222" font-weight="normal" stroke="#222" stroke-width="0" textLength="53.5" lengthAdjust="spacingAndGlyphs">Inhibitors (IU/mg)</text>
<line x1="388.30" y1="244.20" x2="396.00" y2="244.20" stroke="#c8102e" stroke-width="1.8" stroke-dasharray="1.9,1.1"/>
<text x="398.50" y="246.80" font-size="7.8" text-anchor="start" fill="#222" font-weight="normal" stroke="#222" stroke-width="0" textLength="59.2" lengthAdjust="spacingAndGlyphs">Inhibitors (IgG titer)</text>
<line x1="388.30" y1="257.50" x2="396.00" y2="257.50" stroke="#2aa9e0" stroke-width="1.8"/>
<text x="398.50" y="260.10" font-size="7.8" text-anchor="start" fill="#222" font-weight="normal" stroke="#222" stroke-width="0" textLength="64.5" lengthAdjust="spacingAndGlyphs">No inhibitors (IU/mg)</text>
<text x="7.00" y="385.70" font-size="10.6" font-weight="bold" fill="#000" stroke="#000" stroke-width="0.35" transform="translate(7.00 0) scale(1.08 1) translate(-7.00 0)">E</text>
<line x1="59.40" y1="400.00" x2="59.40" y2="530.40" stroke="#303030" stroke-width="1.2"/>
<line x1="56.40" y1="528.30" x2="59.40" y2="528.30" stroke="#303030" stroke-width="0.9"/>
<line x1="57.40" y1="522.02" x2="59.40" y2="522.02" stroke="#303030" stroke-width="0.9"/>
<line x1="57.40" y1="515.75" x2="59.40" y2="515.75" stroke="#303030" stroke-width="0.9"/>
<line x1="57.40" y1="509.47" x2="59.40" y2="509.47" stroke="#303030" stroke-width="0.9"/>
<line x1="56.40" y1="503.20" x2="59.40" y2="503.20" stroke="#303030" stroke-width="0.9"/>
<line x1="57.40" y1="496.92" x2="59.40" y2="496.92" stroke="#303030" stroke-width="0.9"/>
<line x1="57.40" y1="490.65" x2="59.40" y2="490.65" stroke="#303030" stroke-width="0.9"/>
<line x1="57.40" y1="484.37" x2="59.40" y2="484.37" stroke="#303030" stroke-width="0.9"/>
<line x1="56.40" y1="478.10" x2="59.40" y2="478.10" stroke="#303030" stroke-width="0.9"/>
<line x1="57.40" y1="471.82" x2="59.40" y2="471.82" stroke="#303030" stroke-width="0.9"/>
<line x1="57.40" y1="465.55" x2="59.40" y2="465.55" stroke="#303030" stroke-width="0.9"/>
<line x1="57.40" y1="459.27" x2="59.40" y2="459.27" stroke="#303030" stroke-width="0.9"/>
<line x1="56.40" y1="453.00" x2="59.40" y2="453.00" stroke="#303030" stroke-width="0.9"/>
<line x1="57.40" y1="446.72" x2="59.40" y2="446.72" stroke="#303030" stroke-width="0.9"/>
<line x1="57.40" y1="440.45" x2="59.40" y2="440.45" stroke="#303030" stroke-width="0.9"/>
<line x1="57.40" y1="434.17" x2="59.40" y2="434.17" stroke="#303030" stroke-width="0.9"/>
<line x1="56.40" y1="427.90" x2="59.40" y2="427.90" stroke="#303030" stroke-width="0.9"/>
<line x1="57.40" y1="421.62" x2="59.40" y2="421.62" stroke="#303030" stroke-width="0.9"/>
<line x1="57.40" y1="415.35" x2="59.40" y2="415.35" stroke="#303030" stroke-width="0.9"/>
<line x1="57.40" y1="409.07" x2="59.40" y2="409.07" stroke="#303030" stroke-width="0.9"/>
<line x1="56.40" y1="402.80" x2="59.40" y2="402.80" stroke="#303030" stroke-width="0.9"/>
<text x="53.40" y="531.15" font-size="7.8" text-anchor="end" fill="#222" font-weight="normal" stroke="#222" stroke-width="0">0</text>
<text x="53.40" y="506.05" font-size="7.8" text-anchor="end" fill="#222" font-weight="normal" stroke="#222" stroke-width="0">4000</text>
<text x="53.40" y="480.95" font-size="7.8" text-anchor="end" fill="#222" font-weight="normal" stroke="#222" stroke-width="0">8000</text>
<text x="53.40" y="455.85" font-size="7.8" text-anchor="end" fill="#222" font-weight="normal" stroke="#222" stroke-width="0">12000</text>
<text x="53.40" y="430.75" font-size="7.8" text-anchor="end" fill="#222" font-weight="normal" stroke="#222" stroke-width="0">16000</text>
<text x="53.40" y="405.65" font-size="7.8" text-anchor="end" fill="#222" font-weight="normal" stroke="#222" stroke-width="0">20000</text>
<line x1="58.80" y1="529.80" x2="270.60" y2="529.80" stroke="#303030" stroke-width="1.3"/>
<line x1="59.40" y1="529.80" x2="59.40" y2="532.50" stroke="#303030" stroke-width="0.9"/>
<text x="59.40" y="541.00" font-size="7.8" text-anchor="middle" fill="#222" font-weight="normal" stroke="#222" stroke-width="0">0</text>
<line x1="77.80" y1="529.80" x2="77.80" y2="532.50" stroke="#303030" stroke-width="0.9"/>
<text x="77.80" y="541.00" font-size="7.8" text-anchor="middle" fill="#222" font-weight="normal" stroke="#222" stroke-width="0">7</text>
<line x1="96.20" y1="529.80" x2="96.20" y2="532.50" stroke="#303030" stroke-width="0.9"/>
<text x="96.20" y="541.00" font-size="7.8" text-anchor="middle" fill="#222" font-weight="normal" stroke="#222" stroke-width="0">14</text>
<line x1="114.60" y1="529.80" x2="114.60" y2="532.50" stroke="#303030" stroke-width="0.9"/>
<text x="114.60" y="541.00" font-size="7.8" text-anchor="middle" fill="#222" font-weight="normal" stroke="#222" stroke-width="0">21</text>
<line x1="133.00" y1="529.80" x2="133.00" y2="532.50" stroke="#303030" stroke-width="0.9"/>
<text x="133.00" y="541.00" font-size="7.8" text-anchor="middle" fill="#222" font-weight="normal" stroke="#222" stroke-width="0">28</text>
<line x1="151.40" y1="529.80" x2="151.40" y2="532.50" stroke="#303030" stroke-width="0.9"/>
<text x="151.40" y="541.00" font-size="7.8" text-anchor="middle" fill="#222" font-weight="normal" stroke="#222" stroke-width="0">35</text>
<line x1="169.80" y1="529.80" x2="169.80" y2="532.50" stroke="#303030" stroke-width="0.9"/>
<text x="169.80" y="541.00" font-size="7.8" text-anchor="middle" fill="#222" font-weight="normal" stroke="#222" stroke-width="0">42</text>
<line x1="188.20" y1="529.80" x2="188.20" y2="532.50" stroke="#303030" stroke-width="0.9"/>
<text x="188.20" y="541.00" font-size="7.8" text-anchor="middle" fill="#222" font-weight="normal" stroke="#222" stroke-width="0">49</text>
<line x1="206.60" y1="529.80" x2="206.60" y2="532.50" stroke="#303030" stroke-width="0.9"/>
<text x="206.60" y="541.00" font-size="7.8" text-anchor="middle" fill="#222" font-weight="normal" stroke="#222" stroke-width="0">56</text>
<line x1="225.00" y1="529.80" x2="225.00" y2="532.50" stroke="#303030" stroke-width="0.9"/>
<text x="225.00" y="541.00" font-size="7.8" text-anchor="middle" fill="#222" font-weight="normal" stroke="#222" stroke-width="0">63</text>
<line x1="243.40" y1="529.80" x2="243.40" y2="532.50" stroke="#303030" stroke-width="0.9"/>
<text x="243.40" y="541.00" font-size="7.8" text-anchor="middle" fill="#222" font-weight="normal" stroke="#222" stroke-width="0">70</text>
<line x1="261.80" y1="529.80" x2="261.80" y2="532.50" stroke="#303030" stroke-width="0.9"/>
<text x="261.80" y="541.00" font-size="7.8" text-anchor="middle" fill="#222" font-weight="normal" stroke="#222" stroke-width="0">77</text>
<text x="165.00" y="553.30" font-size="9" text-anchor="middle" fill="#222" font-weight="normal" stroke="#222" stroke-width="0.22" textLength="67" lengthAdjust="spacingAndGlyphs">Day in challenge course</text>
<text x="24.50" y="464.50" font-size="9" text-anchor="middle" fill="#222" font-weight="normal" stroke="#222" stroke-width="0.22" textLength="80" lengthAdjust="spacingAndGlyphs" transform="rotate(-90 24.5 464.5)">ET3 specific activity (IU/mg)</text>
<line x1="270.00" y1="400.00" x2="270.00" y2="530.40" stroke="#303030" stroke-width="1.2"/>
<line x1="270.00" y1="524.50" x2="273.00" y2="524.50" stroke="#303030" stroke-width="1.0"/>
<line x1="270.00" y1="494.14" x2="273.00" y2="494.14" stroke="#303030" stroke-width="1.0"/>
<line x1="270.00" y1="463.78" x2="273.00" y2="463.78" stroke="#303030" stroke-width="1.0"/>
<line x1="270.00" y1="433.42" x2="273.00" y2="433.42" stroke="#303030" stroke-width="1.0"/>
<line x1="270.00" y1="403.06" x2="273.00" y2="403.06" stroke="#303030" stroke-width="1.0"/>
<text x="277.10" y="527.35" font-size="7.8" text-anchor="start" fill="#222" font-weight="normal" stroke="#222" stroke-width="0">0.01</text>
<text x="277.10" y="496.99" font-size="7.8" text-anchor="start" fill="#222" font-weight="normal" stroke="#222" stroke-width="0">1</text>
<text x="277.10" y="466.63" font-size="7.8" text-anchor="start" fill="#222" font-weight="normal" stroke="#222" stroke-width="0">100</text>
<text x="277.10" y="436.27" font-size="7.8" text-anchor="start" fill="#222" font-weight="normal" stroke="#222" stroke-width="0">10000</text>
<text x="277.10" y="405.91" font-size="7.8" text-anchor="start" fill="#222" font-weight="normal" stroke="#222" stroke-width="0">1000000</text>
<text x="304.90" y="465.60" font-size="9" text-anchor="middle" fill="#222" font-weight="normal" stroke="#222" stroke-width="0.22" textLength="41" lengthAdjust="spacingAndGlyphs" transform="rotate(90 304.9 465.6)">IgG ELISA titer</text>
<polyline points="59.40,496.70 67.70,497.20 86.20,481.50 104.60,511.00 122.80,528.50 262.00,528.50" fill="none" stroke="#c8102e" stroke-width="1.3" stroke-linejoin="miter"/>
<polyline points="59.40,486.90 67.70,481.50 86.20,492.60 103.50,476.00 122.80,494.20 141.50,474.40 160.00,479.60 178.50,478.00 262.00,498.50" fill="none" stroke="#2aa9e0" stroke-width="1.3" stroke-linejoin="miter"/>
<polyline points="59.40,478.10 67.70,486.20 86.20,460.30 103.50,475.80 122.50,491.20 141.20,492.30 159.70,480.50 178.50,491.80 262.00,507.10" fill="none" stroke="#5b2468" stroke-width="1.3" stroke-linejoin="miter"/>
<polyline points="103.50,524.80 123.10,480.20 141.50,455.30 159.70,445.00 178.50,445.00 262.00,432.90" fill="none" stroke="#c8102e" stroke-width="1.5" stroke-linejoin="miter" stroke-dasharray="3,1.9"/>
<polyline points="59.40,525.00 160.20,525.00 178.50,513.60 262.00,513.60" fill="none" stroke="#5b2468" stroke-width="1.5" stroke-linejoin="miter" stroke-dasharray="3,1.9"/>
<line x1="74.30" y1="390.20" x2="81.30" y2="390.20" stroke="#5b2468" stroke-width="1.8"/>
<text x="85.00" y="392.80" font-size="7.8" text-anchor="start" fill="#222" font-weight="normal" stroke="#222" stroke-width="0" textLength="53" lengthAdjust="spacingAndGlyphs">Resistant (IU/mg)</text>
<line x1="74.30" y1="399.70" x2="81.30" y2="399.70" stroke="#5b2468" stroke-width="1.8" stroke-dasharray="1.9,1.1"/>
<text x="85.00" y="402.30" font-size="7.8" text-anchor="start" fill="#222" font-weight="normal" stroke="#222" stroke-width="0" textLength="61.7" lengthAdjust="spacingAndGlyphs">Resistant (IgG Titer)</text>
<line x1="74.30" y1="409.30" x2="81.30" y2="409.30" stroke="#c8102e" stroke-width="1.8"/>
<text x="85.00" y="411.90" font-size="7.8" text-anchor="start" fill="#222" font-weight="normal" stroke="#222" stroke-width="0" textLength="53" lengthAdjust="spacingAndGlyphs">Inhibitors (IU/mg)</text>
<line x1="74.30" y1="419.30" x2="81.30" y2="419.30" stroke="#c8102e" stroke-width="1.8" stroke-dasharray="1.9,1.1"/>
<text x="85.00" y="421.90" font-size="7.8" text-anchor="start" fill="#222" font-weight="normal" stroke="#222" stroke-width="0" textLength="59" lengthAdjust="spacingAndGlyphs">Inhibitors (IgG titer)</text>
<line x1="74.30" y1="429.30" x2="81.30" y2="429.30" stroke="#2aa9e0" stroke-width="1.8"/>
<text x="85.00" y="431.90" font-size="7.8" text-anchor="start" fill="#222" font-weight="normal" stroke="#222" stroke-width="0" textLength="65.7" lengthAdjust="spacingAndGlyphs">No challenge (IU/mg)</text>
<text x="345.00" y="385.00" font-size="10.6" font-weight="bold" fill="#000" stroke="#000" stroke-width="0.35" transform="translate(345.00 0) scale(1.08 1) translate(-345.00 0)">F</text>
<line x1="389.40" y1="399.30" x2="389.40" y2="535.60" stroke="#303030" stroke-width="1.2"/>
<line x1="386.40" y1="535.00" x2="389.40" y2="535.00" stroke="#303030" stroke-width="0.9"/>
<line x1="387.40" y1="525.45" x2="389.40" y2="525.45" stroke="#303030" stroke-width="0.9"/>
<line x1="387.40" y1="515.90" x2="389.40" y2="515.90" stroke="#303030" stroke-width="0.9"/>
<line x1="387.40" y1="506.35" x2="389.40" y2="506.35" stroke="#303030" stroke-width="0.9"/>
<line x1="386.40" y1="496.80" x2="389.40" y2="496.80" stroke="#303030" stroke-width="0.9"/>
<line x1="387.40" y1="487.25" x2="389.40" y2="487.25" stroke="#303030" stroke-width="0.9"/>
<line x1="387.40" y1="477.70" x2="389.40" y2="477.70" stroke="#303030" stroke-width="0.9"/>
<line x1="387.40" y1="468.15" x2="389.40" y2="468.15" stroke="#303030" stroke-width="0.9"/>
<line x1="386.40" y1="458.60" x2="389.40" y2="458.60" stroke="#303030" stroke-width="0.9"/>
<line x1="387.40" y1="449.05" x2="389.40" y2="449.05" stroke="#303030" stroke-width="0.9"/>
<line x1="387.40" y1="439.50" x2="389.40" y2="439.50" stroke="#303030" stroke-width="0.9"/>
<line x1="387.40" y1="429.95" x2="389.40" y2="429.95" stroke="#303030" stroke-width="0.9"/>
<line x1="386.40" y1="420.40" x2="389.40" y2="420.40" stroke="#303030" stroke-width="0.9"/>
<line x1="387.40" y1="410.85" x2="389.40" y2="410.85" stroke="#303030" stroke-width="0.9"/>
<line x1="387.40" y1="401.30" x2="389.40" y2="401.30" stroke="#303030" stroke-width="0.9"/>
<text x="383.20" y="537.85" font-size="7.8" text-anchor="end" fill="#222" font-weight="normal" stroke="#222" stroke-width="0">0</text>
<text x="383.20" y="499.65" font-size="7.8" text-anchor="end" fill="#222" font-weight="normal" stroke="#222" stroke-width="0">2000</text>
<text x="383.20" y="461.45" font-size="7.8" text-anchor="end" fill="#222" font-weight="normal" stroke="#222" stroke-width="0">4000</text>
<text x="383.20" y="423.25" font-size="7.8" text-anchor="end" fill="#222" font-weight="normal" stroke="#222" stroke-width="0">6000</text>
<line x1="388.80" y1="535.50" x2="506.60" y2="535.50" stroke="#303030" stroke-width="1.1"/>
<rect x="401.30" y="488.20" width="22.80" height="46.80" fill="#154f7c"/>
<rect x="436.30" y="472.30" width="22.90" height="62.70" fill="#5b2468"/>
<rect x="471.40" y="444.70" width="23.00" height="90.30" fill="#29a9e1"/>
<line x1="412.60" y1="488.20" x2="412.60" y2="436.80" stroke="#505050" stroke-width="1.1"/>
<line x1="406.30" y1="436.80" x2="418.90" y2="436.80" stroke="#505050" stroke-width="1.1"/>
<line x1="412.60" y1="535.10" x2="412.60" y2="537.60" stroke="#303030" stroke-width="0.9"/>
<line x1="447.70" y1="472.30" x2="447.70" y2="430.00" stroke="#505050" stroke-width="1.1"/>
<line x1="441.40" y1="430.00" x2="454.00" y2="430.00" stroke="#505050" stroke-width="1.1"/>
<line x1="447.70" y1="535.10" x2="447.70" y2="537.60" stroke="#303030" stroke-width="0.9"/>
<line x1="482.80" y1="444.70" x2="482.80" y2="434.10" stroke="#505050" stroke-width="1.1"/>
<line x1="476.50" y1="434.10" x2="489.10" y2="434.10" stroke="#505050" stroke-width="1.1"/>
<line x1="482.80" y1="535.10" x2="482.80" y2="537.60" stroke="#303030" stroke-width="0.9"/>
<text x="412.30" y="547.30" font-size="7.8" text-anchor="middle" fill="#222" font-weight="normal" stroke="#222" stroke-width="0" textLength="37" lengthAdjust="spacingAndGlyphs">Multiphasic</text>
<text x="449.40" y="547.30" font-size="7.8" text-anchor="middle" fill="#222" font-weight="normal" stroke="#222" stroke-width="0" textLength="30.3" lengthAdjust="spacingAndGlyphs">Resistant</text>
<text x="482.80" y="547.30" font-size="7.8" text-anchor="middle" fill="#222" font-weight="normal" stroke="#222" stroke-width="0">No</text>
<text x="482.80" y="556.90" font-size="7.8" text-anchor="middle" fill="#222" font-weight="normal" stroke="#222" stroke-width="0" textLength="29.5" lengthAdjust="spacingAndGlyphs">inhibitors</text>
<line x1="412.40" y1="407.60" x2="482.60" y2="407.60" stroke="#555" stroke-width="1.2"/>
<text x="447.40" y="404.70" font-size="7.8" text-anchor="middle" fill="#222" font-weight="normal" stroke="#222" stroke-width="0">ns</text>
<line x1="448.40" y1="422.20" x2="482.60" y2="422.20" stroke="#555" stroke-width="1.2"/>
<text x="465.50" y="419.30" font-size="7.8" text-anchor="middle" fill="#222" font-weight="normal" stroke="#222" stroke-width="0">ns</text>
<text x="358.80" y="468.00" font-size="9" text-anchor="middle" fill="#222" font-weight="normal" stroke="#222" stroke-width="0.22" textLength="81" lengthAdjust="spacingAndGlyphs" transform="rotate(-90 358.8 468)">ET3 specific activity (IU/mg)</text>
<rect x="0.5" y="0.5" width="519" height="562" fill="none" stroke="#111" stroke-width="1.2"/>
</svg>
</body></html>
